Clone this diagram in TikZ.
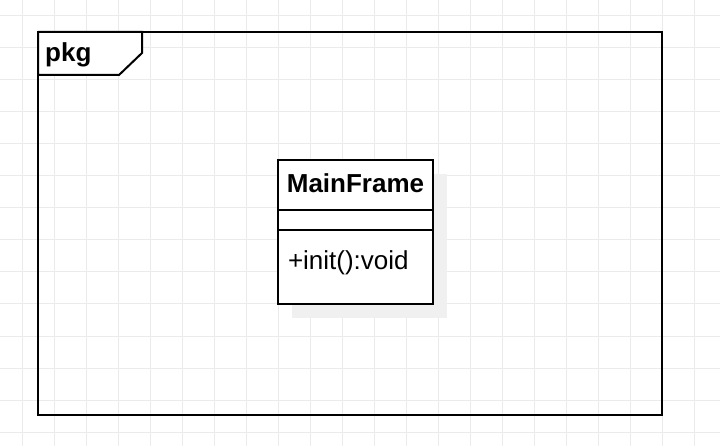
\documentclass[tikz,border=0pt]{standalone}
\usepackage{fontspec}
\setmainfont{Liberation Sans}
\usetikzlibrary{positioning,shadows}

\definecolor{gridgray}{HTML}{EBEBEB}
\definecolor{shadowgray}{HTML}{F0F0F0}

\tikzset{
    gridline/.style={gridgray, line width=1pt},
    umlline/.style={line width=2pt, draw=black},
    classpart/.style={umlline, fill=white, minimum width=155pt, inner xsep=10pt, inner ysep=0pt, outer sep=0pt,
        general shadow={shadow xshift=14pt, shadow yshift=-14pt, fill=shadowgray}},
    umltext/.style={font=\fontsize{26}{31}\selectfont},
    umlbold/.style={font=\fontsize{26}{31}\selectfont\bfseries},
}

\begin{document}
\begin{tikzpicture}[x=1pt, y=-1pt]
    \useasboundingbox (0,0) rectangle (720,446);

    % grid background
    \foreach \gx in {22,54,...,694} \draw[gridline] (\gx,0) -- (\gx,446);
    \foreach \gy in {16,48,...,432} \draw[gridline] (0,\gy) -- (720,\gy);

    % package frame
    \node[umlline, rectangle, minimum width=624pt, minimum height=383pt, inner sep=0pt, outer sep=0pt] (pkgframe) at (350,223.5) {};
    \draw[umlline, fill=white, line join=miter] (pkgframe.north west) -- ++(104,0) -- ++(0,21) -- ++(-23,22) -| (pkgframe.north west);
    \node[umlbold, anchor=base west, inner sep=0pt] (pkgname) at (45,62) {pkg};

    % class MainFrame
    \node[classpart, umlbold, inner xsep=2pt, text height=33pt, text depth=17pt] (cname) at (355.5,185) {MainFrame};
    \node[classpart, minimum height=20pt, below=0pt of cname] (cattr) {};
    \node[classpart, umltext, text width=135pt, align=left, text height=39.5pt, text depth=34.5pt, below=0pt of cattr] (cmeth) {+init():void};
\end{tikzpicture}
\end{document}
